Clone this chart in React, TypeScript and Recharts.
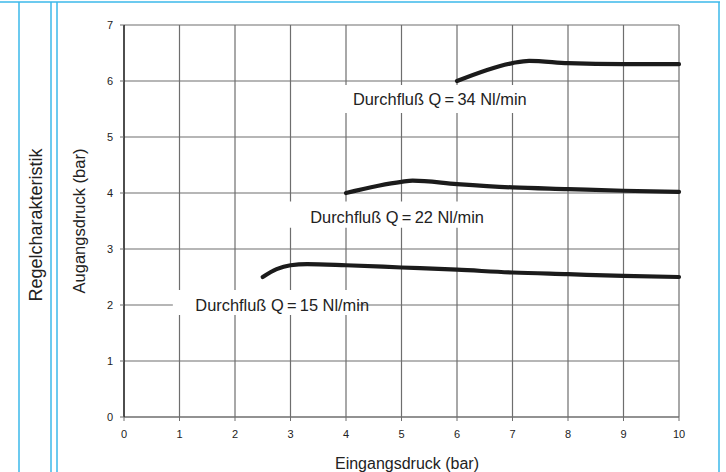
import React from 'react';
import {
  LineChart,
  Line,
  XAxis,
  YAxis,
  CartesianGrid,
  ReferenceArea,
  ReferenceDot,
} from 'recharts';

// Eingangsdruck (bar) -> Ausgangsdruck (bar), one curve per flow rate
const q15 = [
  { x: 2.5, y: 2.5 },
  { x: 2.75, y: 2.64 },
  { x: 3, y: 2.71 },
  { x: 3.3, y: 2.73 },
  { x: 4, y: 2.71 },
  { x: 5, y: 2.67 },
  { x: 6, y: 2.63 },
  { x: 7, y: 2.58 },
  { x: 8, y: 2.55 },
  { x: 9, y: 2.52 },
  { x: 10, y: 2.5 },
];

const q22 = [
  { x: 4, y: 4.0 },
  { x: 5, y: 4.2 },
  { x: 5.2, y: 4.22 },
  { x: 6, y: 4.16 },
  { x: 7, y: 4.1 },
  { x: 8, y: 4.07 },
  { x: 9, y: 4.04 },
  { x: 10, y: 4.02 },
];

const q34 = [
  { x: 6, y: 6.0 },
  { x: 7, y: 6.32 },
  { x: 7.3, y: 6.36 },
  { x: 8, y: 6.32 },
  { x: 9, y: 6.3 },
  { x: 10, y: 6.3 },
];

const xTicks = [0, 1, 2, 3, 4, 5, 6, 7, 8, 9, 10];
const yTicks = [0, 1, 2, 3, 4, 5, 6, 7];

const labels = [
  { text: 'Durchfluß Q\u2009=\u200934 Nl/min', x: 5.69, y: 5.68, box: [3.2, 7.45, 5.43, 5.93] },
  { text: 'Durchfluß Q\u2009=\u200922 Nl/min', x: 4.92, y: 3.57, box: [2.95, 6.6, 3.38, 3.85] },
  { text: 'Durchfluß Q\u2009=\u200915 Nl/min', x: 2.85, y: 2.0, box: [0.88, 4.2, 1.82, 2.27] },
];

const font = 'Arial, "Liberation Sans", Helvetica, sans-serif';
const cyan = '#3bb9ea';
const ink = '#222';

export default function App() {
  return (
    <div style={{ position: 'absolute', left: 0, top: 0, width: 726, height: 472, background: '#fff', fontFamily: font }}>
      <LineChart
        width={726}
        height={472}
        margin={{ top: 25, right: 47, bottom: 25, left: 80 }}
      >
        <CartesianGrid stroke="#6e6e6e" strokeWidth={1.2} />
        <XAxis
          type="number"
          dataKey="x"
          domain={[0, 10]}
          ticks={xTicks}
          height={30}
          tickSize={4}
          tickMargin={9}
          axisLine={{ stroke: '#6e6e6e', strokeWidth: 1.2 }}
          tickLine={{ stroke: '#6e6e6e' }}
          tick={{ fontSize: 11, fill: ink, fontFamily: font }}
        />
        <YAxis
          type="number"
          dataKey="y"
          domain={[0, 7]}
          ticks={yTicks}
          width={44}
          tickSize={4}
          tickMargin={7}
          axisLine={{ stroke: '#111', strokeWidth: 1.2 }}
          tickLine={{ stroke: '#6e6e6e' }}
          tick={{ fontSize: 11, fill: ink, fontFamily: font }}
        />
        {labels.map((l) => (
          <ReferenceArea
            key={'a' + l.text}
            x1={l.box[0]}
            x2={l.box[1]}
            y1={l.box[2]}
            y2={l.box[3]}
            fill="#fff"
            fillOpacity={1}
            stroke="none"
          />
        ))}
        {labels.map((l) => (
          <ReferenceDot
            key={'d' + l.text}
            x={l.x}
            y={l.y}
            r={0}
            stroke="none"
            fill="none"
            label={{ value: l.text, position: 'center', fill: ink, fontSize: 16.4, fontFamily: font }}
          />
        ))}
        <Line data={q15} dataKey="y" type="monotone" stroke="#1b1b1b" strokeWidth={4.2} dot={false} strokeLinecap="round" isAnimationActive={false} />
        <Line data={q22} dataKey="y" type="monotone" stroke="#1b1b1b" strokeWidth={4.2} dot={false} strokeLinecap="round" isAnimationActive={false} />
        <Line data={q34} dataKey="y" type="monotone" stroke="#1b1b1b" strokeWidth={4.2} dot={false} strokeLinecap="round" isAnimationActive={false} />
      </LineChart>
      <svg width={726} height={472} style={{ position: 'absolute', left: 0, top: 0, pointerEvents: 'none' }}>
        <line x1={0} y1={2} x2={720} y2={2} stroke={cyan} strokeWidth={1.5} />
        <line x1={19} y1={2} x2={19} y2={472} stroke={cyan} strokeWidth={1.5} />
        <line x1={51} y1={2} x2={51} y2={472} stroke={cyan} strokeWidth={1.5} />
        <line x1={57} y1={2} x2={57} y2={472} stroke={cyan} strokeWidth={1.5} />
        <line x1={719} y1={2} x2={719} y2={472} stroke={cyan} strokeWidth={1.5} />
        <text x={36} y={225} transform="rotate(-90 36 225)" textAnchor="middle" dominantBaseline="central" fontSize={18} fill={ink} fontFamily={font}>
          Regelcharakteristik
        </text>
        <text x={79} y={221} transform="rotate(-90 79 221)" textAnchor="middle" dominantBaseline="central" fontSize={16.5} fill={ink} fontFamily={font}>
          Augangsdruck (bar)
        </text>
        <text x={407} y={463} textAnchor="middle" dominantBaseline="central" fontSize={16} fill={ink} fontFamily={font}>
          Eingangsdruck (bar)
        </text>
      </svg>
    </div>
  );
}
